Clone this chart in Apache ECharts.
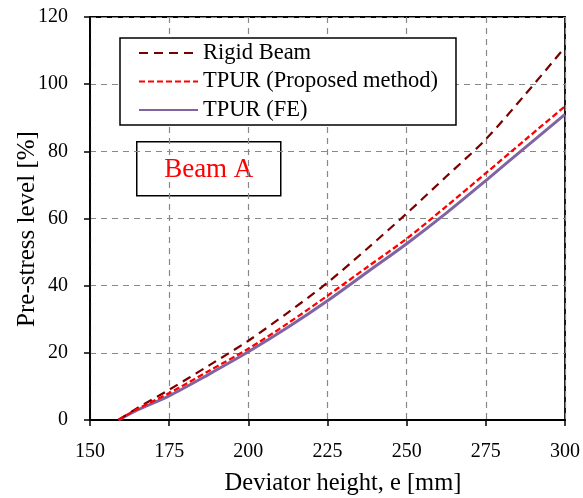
<!DOCTYPE html>
<html>
<head>
<meta charset="utf-8">
<script src="https://cdn.jsdelivr.net/npm/echarts@6/dist/echarts.min.js"></script>
<style>html,body{margin:0;padding:0;background:#fff}#c{width:583px;height:498px}</style>
</head>
<body>
<div id="c"></div>
<script>
var xValues = [159, 165, 175, 187.5, 200, 212.5, 225, 237.5, 250, 262.5, 275, 287.5, 300];
var rigidBeam = [0, 3.6, 9.0, 16.2, 23.6, 32.0, 40.9, 51.0, 61.5, 72.5, 83.6, 97.0, 111.0];
var tpurProposed = [0, 3.3, 8.0, 14.6, 21.2, 28.8, 37.0, 45.5, 54.0, 63.6, 73.5, 83.5, 93.4];
var tpurFE = [0, 3.0, 7.2, 13.6, 20.3, 27.6, 35.5, 44.0, 52.5, 61.6, 71.3, 81.2, 91.0];
var seriesNames = ['Rigid Beam', 'TPUR (Proposed method)', 'TPUR (FE)'];
var xTitle = 'Deviator height, e [mm]';
var yTitle = 'Pre-stress level [%]';
var boxLabel = 'Beam A';

function pairs(ys) { return xValues.map(function (x, i) { return [x, ys[i]]; }); }
var FONT = '"Liberation Serif", "Times New Roman", serif';

var chart = echarts.init(document.getElementById('c'), null, {renderer: 'canvas'});
chart.setOption({
  animation: false,
  backgroundColor: '#fff',
  grid: {left: 90, right: 17, top: 17, bottom: 78, show: true, borderColor: '#000', borderWidth: 1.8, backgroundColor: 'transparent'},
  xAxis: {
    type: 'value', min: 150, max: 300, interval: 25,
    axisLine: {show: true, onZero: false, lineStyle: {color: '#000', width: 1.8}},
    axisTick: {show: true, inside: false, length: 6, lineStyle: {color: '#000', width: 1.5}},
    axisLabel: {color: '#000', fontFamily: FONT, fontSize: 20, margin: 22},
    splitLine: {show: true, lineStyle: {color: '#888', type: [6, 5], width: 1.2}}
  },
  yAxis: {
    type: 'value', min: 0, max: 120, interval: 20,
    axisLine: {show: true, onZero: false, lineStyle: {color: '#000', width: 1.8}},
    axisTick: {show: true, inside: false, length: 6, lineStyle: {color: '#000', width: 1.5}},
    axisLabel: {color: '#000', fontFamily: FONT, fontSize: 20, margin: 22},
    splitLine: {show: true, lineStyle: {color: '#888', type: [6, 5], width: 1.2}}
  },
  legend: {
    orient: 'vertical', left: 120, top: 38,
    backgroundColor: '#fff', borderColor: '#000', borderWidth: 1.5,
    padding: [3.5, 18, 3.5, 18], itemWidth: 59, itemHeight: 14, itemGap: 5.5, itemTextGap: 6,
    itemStyle: {opacity: 0},
    textStyle: {color: '#000', fontFamily: FONT, fontSize: 22.5, lineHeight: 22},
    data: seriesNames
  },
  series: [
    {name: seriesNames[0], type: 'line', data: pairs(rigidBeam), smooth: 0.3, showSymbol: false, symbol: 'none',
     lineStyle: {color: '#7a0000', width: 2.2, type: [9, 6]}, itemStyle: {color: '#7a0000'}, z: 3},
    {name: seriesNames[1], type: 'line', data: pairs(tpurProposed), smooth: 0.3, showSymbol: false, symbol: 'none',
     lineStyle: {color: '#ff0000', width: 2.3, type: [6, 3]}, itemStyle: {color: '#ff0000'}, z: 4},
    {name: seriesNames[2], type: 'line', data: pairs(tpurFE), smooth: 0.3, showSymbol: false, symbol: 'none',
     lineStyle: {color: '#8064a2', width: 3, type: 'solid'}, itemStyle: {color: '#8064a2'}, z: 2}
  ],
  graphic: [
    {type: 'group', left: 136, top: 141, children: [
      {type: 'rect', shape: {x: 0, y: 0, width: 144, height: 54}, style: {fill: '#fff', stroke: '#000', lineWidth: 1.5}},
      {type: 'text', x: 72, y: 28, style: {text: boxLabel, fill: '#ff0000', font: '27px ' + FONT, align: 'center', verticalAlign: 'middle'}}
    ]},
    {type: 'text', x: 343, y: 484, style: {text: xTitle, fill: '#000', font: '24.5px ' + FONT, align: 'center', verticalAlign: 'middle'}},
    {type: 'text', x: 27, y: 229, rotation: Math.PI / 2, style: {text: yTitle, fill: '#000', font: '25px ' + FONT, align: 'center', verticalAlign: 'middle'}}
  ]
});
</script>
</body>
</html>
